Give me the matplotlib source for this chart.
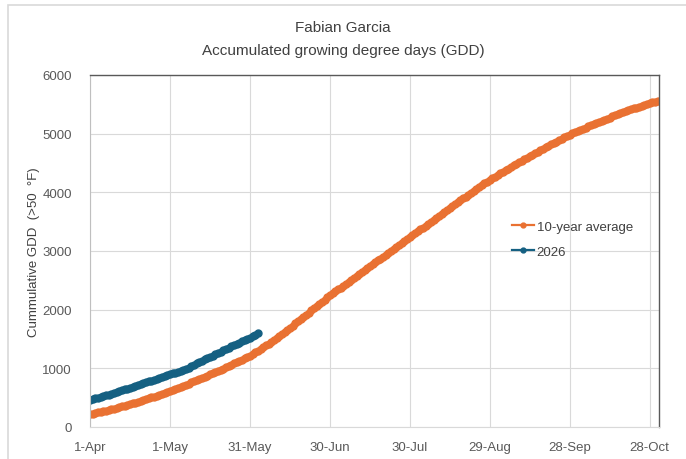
import matplotlib
matplotlib.use("Agg")
import matplotlib.pyplot as plt
from matplotlib.patches import Rectangle

plt.rcParams['font.family'] = ['Liberation Sans', 'DejaVu Sans']

# day index 0 = 1-Apr
tick_days = [0, 30, 60, 90, 120, 150, 180, 210]
tick_labels = ['1-Apr', '1-May', '31-May', '30-Jun', '30-Jul', '29-Aug', '28-Sep', '28-Oct']

avg_gdd = [
    215, 226, 237, 248, 259, 270, 281, 292, 303, 314, 325,
    338, 351, 364, 377, 390, 403, 416, 429, 442, 455,
    471, 487, 503, 519, 535, 551, 567, 583, 599, 615,
    633, 651, 669, 687, 705, 723, 741, 759, 777, 795,
    815, 835, 855, 875, 895, 915, 935, 955, 975, 995,
    1017, 1039, 1061, 1083, 1105, 1127, 1149, 1171, 1193, 1215,
    1243, 1272, 1301, 1331, 1361, 1392, 1423, 1454, 1485, 1515,
    1550, 1585, 1621, 1657, 1693, 1729, 1765, 1801, 1838, 1875,
    1912, 1949, 1986, 2023, 2060, 2097, 2134, 2171, 2208, 2245,
    2278, 2311, 2344, 2377, 2410, 2443, 2476, 2509, 2542, 2575,
    2608, 2641, 2674, 2707, 2740, 2773, 2806, 2839, 2872, 2905,
    2938, 2971, 3004, 3037, 3070, 3103, 3136, 3169, 3202, 3235,
    3268, 3301, 3334, 3367, 3400, 3433, 3466, 3499, 3532, 3565,
    3598, 3631, 3664, 3697, 3730, 3763, 3796, 3829, 3862, 3895,
    3927, 3959, 3991, 4023, 4055, 4087, 4119, 4151, 4183, 4215,
    4242, 4269, 4296, 4323, 4350, 4377, 4404, 4431, 4458, 4485,
    4511, 4537, 4563, 4589, 4615, 4641, 4667, 4693, 4719, 4745,
    4769, 4793, 4817, 4841, 4865, 4889, 4913, 4937, 4961, 4985,
    5005, 5025, 5045, 5065, 5085, 5105, 5125, 5145, 5165, 5185,
    5203, 5221, 5239, 5257, 5275, 5293, 5311, 5329, 5347, 5365,
    5381, 5397, 5413, 5429, 5445, 5461, 5477, 5493, 5509, 5525,
    5534, 5543, 5552,
]

gdd_2026 = [
    465, 472, 486, 498, 512, 525, 540, 553, 568, 580, 594,
    609, 624, 640, 655, 670, 684, 700, 716, 731, 746,
    761, 777, 792, 807, 822, 838, 853, 869, 884, 900,
    914, 928, 943, 958, 973, 990,
    1012, 1036, 1060, 1083, 1107, 1130,
    1152, 1174, 1196, 1218, 1240, 1262, 1284, 1306, 1330,
    1352, 1374, 1395, 1416, 1437, 1458, 1479, 1500,
    1525, 1550, 1575, 1600,
]

orange = '#E97132'
blue = '#156082'
txt = '#595959'

fig = plt.figure(figsize=(6.86, 4.6), dpi=100)
# chart area border (Excel style)
fig.patches.append(Rectangle((8 / 686, -0.1), 1.2, (1 - 5.5 / 460) + 0.1, transform=fig.transFigure,
                             fill=False, edgecolor='#D9D9D9', lw=1.2))

ax = fig.add_axes([90 / 686, 1 - 428 / 460, (659 - 90) / 686, (428 - 76) / 460])

ax.plot(range(len(avg_gdd)), avg_gdd, color=orange, lw=2.4, marker='o', ms=5, label='10-year average')
ax.plot(range(len(gdd_2026)), gdd_2026, color=blue, lw=2.4, marker='o', ms=5, label='2026')

ax.set_xlim(0, 213.5)
ax.set_ylim(0, 6000)
ax.set_xticks(tick_days)
ax.set_xticklabels(tick_labels)
ax.set_yticks(range(0, 6001, 1000))
ax.tick_params(length=0, labelsize=9.5, colors=txt)
ax.tick_params(axis='x', pad=10)
ax.tick_params(axis='y', pad=13)
ax.grid(True, color='#D9D9D9', lw=0.8)
ax.set_axisbelow(True)

for s in ['top', 'right']:
    ax.spines[s].set_color('#595959')
    ax.spines[s].set_linewidth(1.0)
ax.spines['left'].set_color('#BFBFBF')
ax.spines['bottom'].set_color('#D9D9D9')

ax.set_ylabel('Cummulative GDD  (>50  °F)', fontsize=9.5, color='#404040', labelpad=2)

fig.text(343 / 686, 1 - 28 / 460, 'Fabian Garcia', ha='center', va='center', fontsize=11, color='#404040')
fig.text(343 / 686, 1 - 51 / 460, 'Accumulated growing degree days (GDD)', ha='center', va='center',
         fontsize=11, color='#404040')

leg = ax.legend(loc='upper left', bbox_to_anchor=(505 / 686, 1 - 215 / 460), bbox_transform=fig.transFigure,
                frameon=False, fontsize=9.5, handlelength=1.7, labelspacing=0.95,
                handletextpad=0.2, borderpad=0, labelcolor='#404040')
for h in leg.get_lines():
    h.set_linewidth(1.6)
    h.set_markersize(3.5)

fig.savefig('out.png', dpi=100)
